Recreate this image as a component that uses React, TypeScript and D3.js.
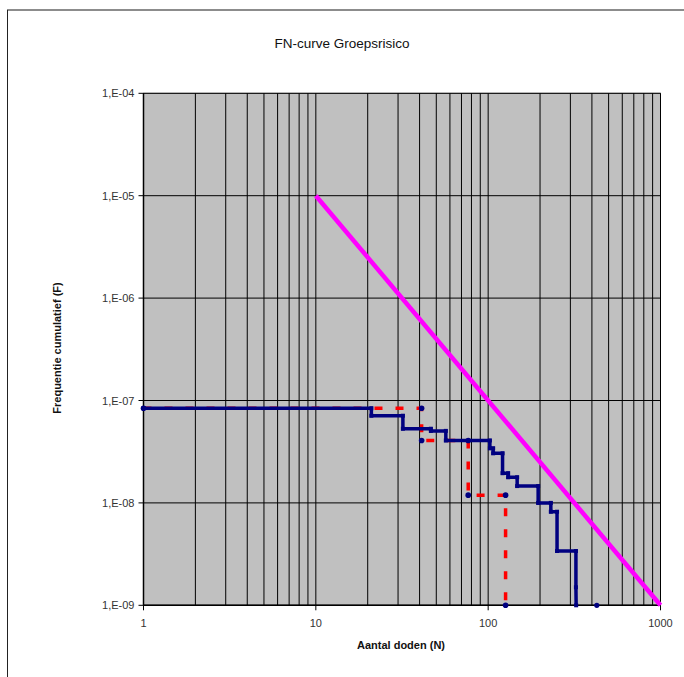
import React from "react";
import * as d3 from "d3";

const title = "FN-curve Groepsrisico";
const xTitle = "Aantal doden (N)";
const yTitle = "Frequentie cumulatief (F)";

const xTickValues = [1, 10, 100, 1000];
const xTickLabels = ["1", "10", "100", "1000"];
const yTickValues = [1e-9, 1e-8, 1e-7, 1e-6, 1e-5, 1e-4];
const yTickLabels = ["1,E-09", "1,E-08", "1,E-07", "1,E-06", "1,E-05", "1,E-04"];

// Blue (navy) step curve
const blueN = [1, 21, 21, 32, 32, 46.5, 46.5, 56.8, 56.8, 102.3, 102.3, 106.9, 106.9, 121.2, 121.2, 130.6, 130.6, 147.3, 147.3, 195, 195, 231, 231, 251, 251, 323, 323, 324];
const blueF = [8.4e-8, 8.4e-8, 7.1e-8, 7.1e-8, 5.3e-8, 5.3e-8, 5.05e-8, 5.05e-8, 4.07e-8, 4.07e-8, 3.41e-8, 3.41e-8, 3.05e-8, 3.05e-8, 1.95e-8, 1.95e-8, 1.78e-8, 1.78e-8, 1.46e-8, 1.46e-8, 1.0e-8, 1.0e-8, 8.2e-9, 8.2e-9, 3.39e-9, 3.39e-9, 1.5e-9, 1e-9];
const blueExtraN = [427];
const blueExtraF = [1e-9];

// Red dashed step curve
const redN = [1, 41.1, 41.1, 76.6, 76.6, 126.2, 126.2];
const redF = [8.4e-8, 8.4e-8, 4.07e-8, 4.07e-8, 1.19e-8, 1.19e-8, 1e-9];

// Norm line (magenta)
const normN = [10, 1000];
const normF = [1e-5, 1e-9];

const W = 684;
const H = 677;

export default function App() {
  const x = d3.scaleLog().domain([1, 1000]).range([143.5, 660.5]);
  const y = d3.scaleLog().domain([1e-9, 1e-4]).range([605.3, 93.3]);
  const [x0, x1] = x.range();
  const [y0, y1] = [y.range()[1], y.range()[0]];

  const gridX: number[] = [];
  for (let d = 0; d < 3; d++) {
    for (let k = 1; k <= 9; k++) gridX.push(k * Math.pow(10, d));
  }
  gridX.push(1000);

  const line = d3
    .line<[number, number]>()
    .x((d) => x(d[0]))
    .y((d) => y(d[1]));

  const bluePts: [number, number][] = blueN.map((n, i) => [n, blueF[i]]);
  const redPts: [number, number][] = redN.map((n, i) => [n, redF[i]]);
  const normPts: [number, number][] = normN.map((n, i) => [n, normF[i]]);
  const extraPts: [number, number][] = blueExtraN.map((n, i) => [n, blueExtraF[i]]);

  const font = "'Liberation Sans', Arial, sans-serif";

  return (
    <svg
      width={W}
      height={H}
      style={{ position: "absolute", left: 0, top: 0, background: "#fff" }}
      fontFamily={font}
    >
      <rect x={0} y={0} width={W} height={H} fill="#fff" />
      {/* chart frame */}
      <line x1={7} y1={10} x2={W} y2={10} stroke="#8c8c8c" strokeWidth={2} />
      <line x1={7.5} y1={10} x2={7.5} y2={H} stroke="#222" strokeWidth={1} />

      <text x={342} y={48} textAnchor="middle" fontSize={13.5} fill="#111">
        {title}
      </text>

      {/* plot area */}
      <rect x={x0} y={y0} width={x1 - x0} height={y1 - y0} fill="#c0c0c0" stroke="#808080" strokeWidth={1} />

      {gridX.map((v, i) => (
        <line key={"gx" + i} x1={x(v)} x2={x(v)} y1={y0} y2={y1} stroke="#000" strokeWidth={1} />
      ))}
      {yTickValues.map((v, i) => (
        <line key={"gy" + i} x1={x0} x2={x1} y1={y(v)} y2={y(v)} stroke="#000" strokeWidth={1} />
      ))}

      {/* axes */}
      <line x1={x0} x2={x0} y1={y0} y2={y1} stroke="#000" strokeWidth={1.5} />
      <line x1={x0} x2={x1} y1={y1} y2={y1} stroke="#000" strokeWidth={1.5} />
      {yTickValues.map((v, i) => (
        <g key={"yt" + i}>
          <line x1={x0 - 5} x2={x0} y1={y(v)} y2={y(v)} stroke="#000" strokeWidth={1} />
          <text x={x0 - 9} y={y(v) + 4} textAnchor="end" fontSize={11} fill="#333">
            {yTickLabels[i]}
          </text>
        </g>
      ))}
      {xTickValues.map((v, i) => (
        <g key={"xt" + i}>
          <line x1={x(v)} x2={x(v)} y1={y1} y2={y1 + 5} stroke="#000" strokeWidth={1} />
          <text x={x(v)} y={y1 + 22} textAnchor="middle" fontSize={11} fill="#333">
            {xTickLabels[i]}
          </text>
        </g>
      ))}

      {/* series */}
      <path d={line(redPts) || ""} fill="none" stroke="#ff0000" strokeWidth={3.5} strokeDasharray="8,13" />
      <path d={line(bluePts) || ""} fill="none" stroke="#000080" strokeWidth={3.5} strokeLinejoin="miter" />
      {bluePts.map((p, i) => (
        <rect key={"bm" + i} x={x(p[0]) - 2} y={y(p[1]) - 2} width={4} height={4} fill="#000080" />
      ))}
      {extraPts.map((p, i) => (
        <circle key={"em" + i} cx={x(p[0])} cy={y(p[1])} r={2.6} fill="#000080" />
      ))}
      {redPts.map((p, i) => (
        <circle key={"rm" + i} cx={x(p[0])} cy={y(p[1])} r={2.8} fill="#000080" />
      ))}
      <path d={line(normPts) || ""} fill="none" stroke="#ff00ff" strokeWidth={4.5} />

      {/* axis titles */}
      <text x={401} y={649} textAnchor="middle" fontSize={11} fontWeight="bold" fill="#111">
        {xTitle}
      </text>
      <text
        transform={`translate(61,348) rotate(-90)`}
        textAnchor="middle"
        fontSize={11}
        fontWeight="bold"
        fill="#111"
      >
        {yTitle}
      </text>
    </svg>
  );
}
